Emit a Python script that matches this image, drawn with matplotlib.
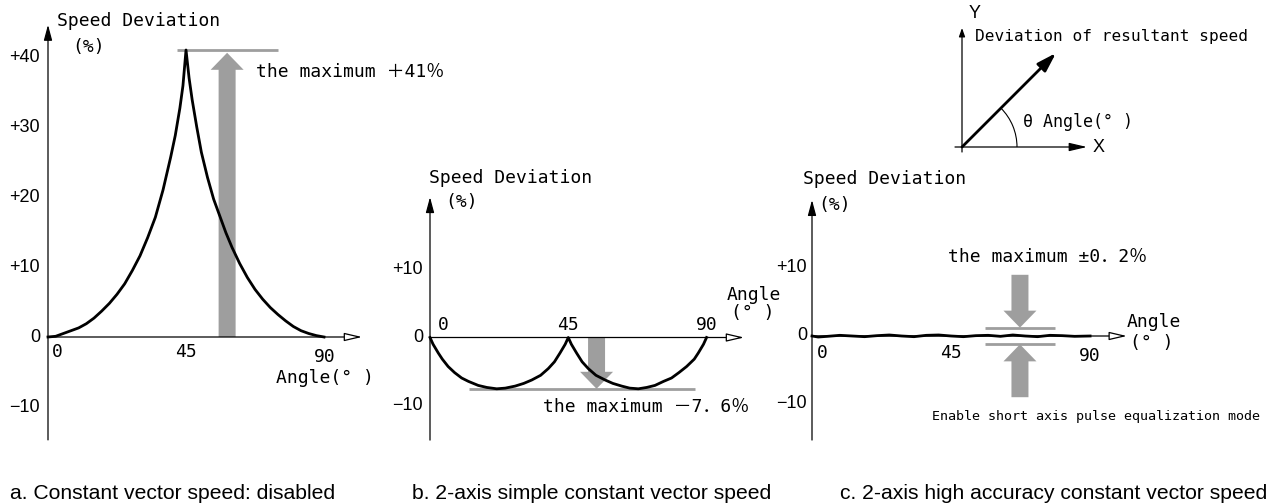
import matplotlib.pyplot as plt
from matplotlib.patches import Arc
from matplotlib.transforms import offset_copy

# speed deviation (%) against angle (deg) for the three interpolation modes
angle_a = [0, 2.5, 5, 7.5, 10, 12.5, 15, 17.5, 20, 22.5, 25, 27.5, 30, 32.5, 35,
           37.5, 40, 41.5, 43, 44, 45,
           46, 47, 48.5, 50, 52, 54, 56, 58, 60, 62.5, 65, 67.5, 70, 72.5, 75,
           77.5, 80, 82.5, 85, 87.5, 90]
dev_a = [0, 0.1, 0.5, 0.9, 1.3, 1.9, 2.7, 3.7, 4.8, 6.1, 7.6, 9.5, 11.6, 14.2, 17.1,
         21.0, 25.7, 28.8, 32.7, 35.9, 41,
         37.0, 33.9, 30.0, 26.4, 22.8, 19.7, 17.3, 14.9, 12.8, 10.5, 8.5, 6.8, 5.4,
         4.2, 3.2, 2.3, 1.5, 0.9, 0.5, 0.2, 0]

angle_b = [0, 1, 2.7, 4, 5.9, 8, 10.3, 12.5, 15.7, 18.5, 21.7, 24.5, 27.7, 30.5,
           33.1, 36, 38.5, 40.5, 42.3, 44, 45,
           46, 47.7, 49.5, 51.5, 54, 57, 59.5, 62.4, 65, 67.8, 70.5, 73.2, 76,
           78.6, 81, 83.5, 86, 87.3, 89, 90]
dev_b = [0, -1.0, -2.3, -3.2, -4.3, -5.2, -6.0, -6.5, -7.1, -7.4, -7.6, -7.5, -7.2,
         -6.8, -6.3, -5.6, -4.6, -3.6, -2.3, -1.0, 0,
         -1.0, -2.3, -3.6, -4.6, -5.6, -6.3, -6.8, -7.2, -7.5, -7.6, -7.4, -7.1,
         -6.5, -6.0, -5.2, -4.3, -3.2, -2.3, -1.0, 0]

angle_c = [0, 2, 5, 9, 13, 17, 21, 25, 29, 33, 37, 41, 45,
           49, 53, 57, 61, 65, 69, 73, 77, 81, 85, 90]
dev_c = [0, -0.15, -0.05, 0.1, 0.0, -0.1, 0.05, 0.15, 0.0, -0.1, 0.1, 0.15, 0.0,
         -0.1, 0.05, 0.1, -0.05, 0.15, 0.0, -0.1, 0.1, 0.05, -0.05, 0]

max_a = 41
max_b = -7.6
max_c = 0.2

yticks_a = [40, 30, 20, 10, 0, -10]
ylabels_a = ["+40", "+30", "+20", "+10", "0", "\u221210"]
yticks_bc = [10, 0, -10]
ylabels_bc = ["+10", "0", "\u221210"]

captions = ["a. Constant vector speed: disabled",
            "b. 2-axis simple constant vector speed",
            "c. 2-axis high accuracy constant vector speed"]

W, H = 1279, 503
GRAY = "#9e9e9e"
MONO = ["DejaVu Sans Mono", "Noto Sans CJK JP"]
SANS = ["Liberation Sans", "DejaVu Sans"]

fig = plt.figure(figsize=(W / 100, H / 100), dpi=100)


def panel(box, origin, px_x, px_y):
    # axes placed by pixel box, scaled so that origin sits at the given pixel
    l, t, r, b = box
    ax = fig.add_axes([l / W, 1 - b / H, (r - l) / W, (b - t) / H])
    ax.set_xlim((l - origin[0]) / px_x, (r - origin[0]) / px_x)
    ax.set_ylim((origin[1] - b) / px_y, (origin[1] - t) / px_y)
    ax.axis("off")
    return ax


def axis_arrow(ax, start, end, open_head=False, hl=13, hw=3.5, lw=0.9):
    ax.annotate("", xy=end, xytext=start,
                arrowprops=dict(arrowstyle=f"-|>,head_length={hl},head_width={hw}",
                                mutation_scale=0.72, lw=lw, ec="black",
                                fc="white" if open_head else "black",
                                shrinkA=0, shrinkB=0),
                annotation_clip=False)


def block_arrow(ax, tail, tip, xycoords="data", z=2):
    ax.annotate("", xy=tip, xycoords=xycoords, xytext=tail, textcoords="data",
                arrowprops=dict(arrowstyle="simple,head_length=17,head_width=33,tail_width=17",
                                mutation_scale=0.72, fc=GRAY, ec="none",
                                shrinkA=0, shrinkB=0),
                annotation_clip=False, zorder=z)


def mono(ax, x, y, s, size=13, **kw):
    ax.text(x, y, s, family=MONO, fontsize=size, va="center", **kw)


def yticklabels(ax, x, ticks, labels):
    for v, lab in zip(ticks, labels):
        ax.text(x, v, lab, family=SANS, fontsize=13, ha="right", va="center")


# a. constant vector speed disabled
ax = panel((0, 0, 430, 445), (48, 337), 3.067, 7.0)
axis_arrow(ax, (0, -14.7), (0, 44.6))
axis_arrow(ax, (0, 0), (102.4, 0), open_head=True, hl=15)
ax.plot([42.1, 75.0], [max_a, max_a], color=GRAY, lw=2, solid_capstyle="butt")
block_arrow(ax, (58.4, 0), (58.4, max_a - 0.4), z=2)
ax.plot(angle_a, dev_a, color="black", lw=2, zorder=3, clip_on=False)
yticklabels(ax, -2.6, yticks_a, ylabels_a)
mono(ax, 1.2, -2.2, "0")
mono(ax, 45, -2.2, "45", ha="center")
mono(ax, 90.3, -2.9, "90", ha="center")
mono(ax, 74.3, -5.9, "Angle(° )")
mono(ax, 2.9, 45.1, "Speed Deviation")
mono(ax, 7.8, 41.4, "(%)")
mono(ax, 67.8, 37.9, f"the maximum ＋{max_a}％")

# b. 2-axis simple constant vector speed
ax = panel((380, 150, 790, 445), (430, 337.5), 3.073, 6.75)
axis_arrow(ax, (0, -15.2), (0, 20.8))
axis_arrow(ax, (0, 0), (102.2, 0), open_head=True, hl=15)
ax.plot([12.8, 86.2], [max_b, max_b], color=GRAY, lw=2, solid_capstyle="butt")
block_arrow(ax, (54.2, 0), (54.2, max_b), z=2)
ax.plot(angle_b, dev_b, color="black", lw=2, zorder=3, clip_on=False)
yticklabels(ax, -2.3, yticks_bc, ylabels_bc)
mono(ax, 2.6, 1.85, "0")
mono(ax, 45, 1.85, "45", ha="center")
mono(ax, 90.1, 1.85, "90", ha="center")
mono(ax, 96.5, 6.3, "Angle")
mono(ax, 97.9, 3.6, "(° )")
mono(ax, -0.2, 23.6, "Speed Deviation")
mono(ax, 4.9, 20.0, "(%)")
mono(ax, 36.9, -10.25, f"the maximum －{str(abs(max_b)).replace('.', '．')}％")

# c. 2-axis high accuracy constant vector speed
ax = panel((760, 150, 1279, 445), (812, 336), 3.09, 6.8)
axis_arrow(ax, (0, -15.3), (0, 20.0))
axis_arrow(ax, (0, 0), (101.9, 0), open_head=True, hl=15)
ax.plot(angle_c, dev_c, color="black", lw=2, zorder=3, clip_on=False)
band_up = offset_copy(ax.transData, fig=fig, y=7, units="dots")
band_dn = offset_copy(ax.transData, fig=fig, y=-7, units="dots")
ax.plot([56.0, 78.6], [max_c, max_c], color=GRAY, lw=2, transform=band_up,
        solid_capstyle="butt")
ax.plot([56.0, 78.6], [-max_c, -max_c], color=GRAY, lw=2, transform=band_dn,
        solid_capstyle="butt")
block_arrow(ax, (67.3, 9.0), (67.3, max_c), xycoords=band_up)
block_arrow(ax, (67.3, -9.0), (67.3, -max_c), xycoords=band_dn)
yticklabels(ax, -1.6, yticks_bc, ylabels_bc)
mono(ax, 1.6, -2.5, "0")
mono(ax, 45, -2.5, "45", ha="center")
mono(ax, 90, -2.9, "90", ha="center")
mono(ax, 101.9, 2.1, "Angle")
mono(ax, 102.9, -1.0, "(° )")
mono(ax, -2.9, 23.1, "Speed Deviation")
mono(ax, 1.9, 19.3, "(%)")
mono(ax, 43.9, 11.6, f"the maximum ±{str(max_c).replace('.', '．')}％")
mono(ax, 38.7, -11.8, "Enable short axis pulse equalization mode", size=9.6)

# vector diagram: resultant speed at angle theta
ax = panel((930, 0, 1279, 170), (962, 147), 100, 100)
axis_arrow(ax, (0, -0.05), (0, 1.19), hl=7, hw=2.5)
axis_arrow(ax, (-0.07, 0), (1.25, 0), hl=15, hw=3.5)
axis_arrow(ax, (0, 0), (0.94, 0.94), hl=16, hw=5, lw=2)
ax.add_patch(Arc((0, 0), 1.1, 1.1, theta1=0, theta2=45, lw=0.8, color="black"))
ax.text(0.13, 1.34, "Y", family=SANS, fontsize=13, ha="center", va="center")
ax.text(1.31, 0.0, "X", family=SANS, fontsize=13, va="center")
mono(ax, 0.13, 1.10, "Deviation of resultant speed", size=11.6)
mono(ax, 0.61, 0.25, "θ Angle(° )", size=12)

for x, s in zip([10, 412, 840], captions):
    fig.text(x / W, 1 - 499 / H, s, family=SANS, fontsize=15.2, va="baseline")

fig.savefig("out.png", dpi=100)
